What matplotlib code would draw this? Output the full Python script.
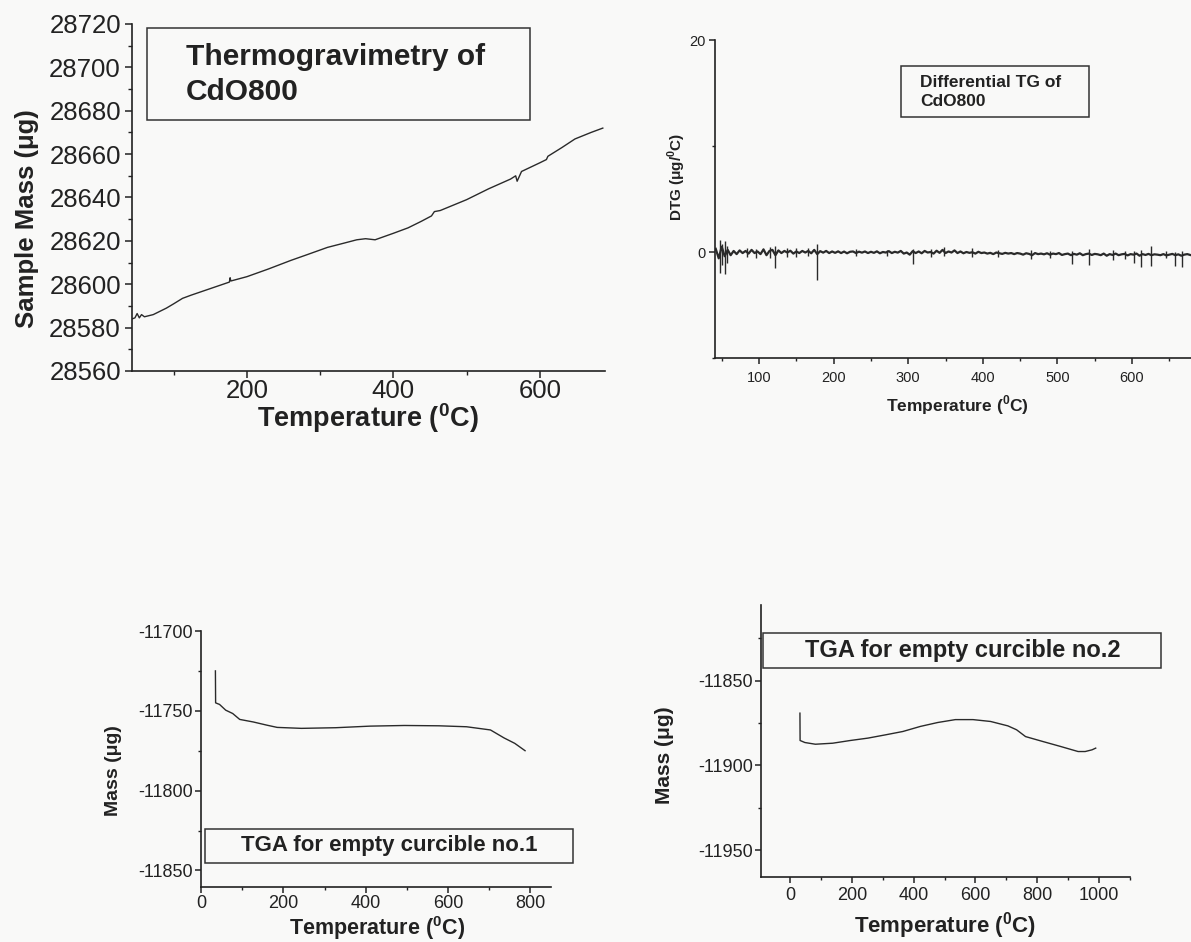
import numpy as np
import matplotlib
matplotlib.use("Agg")
import matplotlib.pyplot as plt
from matplotlib.patches import Rectangle
from matplotlib.ticker import MultipleLocator

plt.rcParams['font.family'] = ['Liberation Sans', 'DejaVu Sans']
plt.rcParams['mathtext.fontset'] = 'custom'
plt.rcParams['mathtext.rm'] = 'Liberation Sans'
plt.rcParams['mathtext.bf'] = 'Liberation Sans:bold'
plt.rcParams['axes.unicode_minus'] = False

# ---------------- data ----------------
# Panel 1: TG of CdO800
tg_temp = [43, 47, 50, 53, 56, 60, 72, 90, 100, 112, 124, 137, 150, 163, 176, 177, 178,
           200, 229, 260, 281, 310, 333, 350, 362, 375, 400, 420, 438, 452, 456, 464,
           500, 530, 560, 567, 569, 571, 575, 600, 609, 611, 630, 648, 670, 686]
tg_mass = [28584, 28584.5, 28586.5, 28584.5, 28586, 28585, 28586, 28589, 28591, 28593.5,
           28595, 28596.5, 28598, 28599.5, 28601, 28603, 28601.5, 28603.5, 28607, 28611,
           28613.5, 28617, 28619, 28620.5, 28621, 28620.5, 28623.5, 28626, 28629,
           28631.5, 28633.5, 28634, 28639, 28644, 28648.5, 28650, 28647.5, 28649, 28652,
           28656, 28657.5, 28659, 28663, 28667, 28670, 28672]

# Panel 2: DTG of CdO800 (sampled every 4 degC from 42 to 678)
dtg_temp = np.arange(42, 680, 4)
dtg_value = [
    0.3, -0.6, 0.5, -0.4, 0.2, -0.3, 0.1, -0.2, 0.15, -0.1,
    0.1, -0.15, 0.2, -0.1, 0.05, -0.2, 0.25, -0.3, 0.1, 0.2,
    -0.3, 0.15, -0.1, 0.1, -0.05, 0.12, -0.15, 0.05, -0.1, 0.1,
    -0.05, 0.1, -0.12, 0.2, -0.2, 0.08, -0.06, 0.1, -0.1, 0.05,
    -0.08, 0.06, -0.1, 0.04, -0.12, 0.02, 0.05, -0.1, 0.03, -0.06,
    0.05, -0.1, 0.02, -0.08, 0.06, -0.12, 0.0, -0.05, 0.08, -0.1,
    0.02, -0.06, 0.1, -0.15, -0.05, -0.25, 0.08, -0.1, 0.05, -0.12,
    0.1, -0.05, 0.0, -0.15, 0.12, -0.08, 0.2, -0.1, 0.05, -0.05,
    0.15, -0.1, 0.05, -0.12, 0.0, -0.08, -0.02, -0.15, 0.02, -0.1,
    -0.05, -0.15, -0.08, -0.2, -0.05, -0.12, -0.18, -0.08, -0.15, -0.1,
    -0.2, -0.1, -0.15, -0.25, -0.12, -0.18, -0.3, -0.1, -0.2, -0.15,
    -0.22, -0.12, -0.25, -0.15, -0.2, -0.1, -0.28, -0.2, -0.15, -0.3,
    -0.18, -0.25, -0.12, -0.3, -0.2, -0.15, -0.28, -0.18, -0.22, -0.3,
    -0.15, -0.35, -0.2, -0.28, -0.15, -0.3, -0.22, -0.18, -0.32, -0.2,
    -0.25, -0.15, -0.35, -0.2, -0.28, -0.18, -0.3, -0.22, -0.25, -0.3,
    -0.2, -0.32, -0.25, -0.18, -0.3, -0.22, -0.35, -0.25, -0.2, -0.28]
# isolated spikes in the DTG trace
spike_temp = [48, 51, 54, 57, 84, 96, 115, 122, 138, 150, 165, 178, 230, 272, 306, 330,
              348, 386, 420, 465, 490, 519, 542, 575, 590, 603, 612, 625, 645, 657, 667]
spike_lo = [-2.0, -1.2, -2.1, -1.0, -0.5, -0.6, -0.6, -1.55, -0.5, -0.5, -0.4, -2.6,
            -0.4, -0.4, -1.1, -0.5, -0.4, -0.5, -0.5, -0.7, -0.6, -1.1, -1.2, -0.8,
            -0.7, -1.0, -1.4, -1.3, -0.6, -1.3, -1.4]
spike_hi = [1.1, 0.8, 1.0, 0.6, 0.4, 0.3, 0.5, 0.6, 0.4, 0.4, 0.4, 0.8, 0.3, 0.2, 0.3,
            0.3, 0.5, 0.4, 0.2, 0.2, 0.1, 0.1, 0.3, 0.2, 0.1, 0.1, 0.2, 0.6, 0.1, 0.0,
            0.1]

# Panel 3: empty crucible no.1
ec1_temp = [35, 35.5, 40, 45, 60, 77, 94, 127, 160, 185, 244, 327, 411, 494, 578, 645,
            703, 736, 762, 787]
ec1_mass = [-11725, -11745, -11745.5, -11746, -11749.6, -11751.7, -11755.4, -11757,
            -11759, -11760.4, -11761, -11760.6, -11759.6, -11759.2, -11759.4, -11760,
            -11762, -11767, -11770.4, -11775]

# Panel 4: empty crucible no.2
ec2_temp = [32, 32.5, 48, 82, 138, 195, 252, 308, 365, 422, 478, 535, 592, 649, 705,
            733, 762, 818, 875, 932, 955, 977, 989]
ec2_mass = [-11869.2, -11885.3, -11886.5, -11887.5, -11886.9, -11885.3, -11883.9,
            -11882, -11880, -11877, -11874.7, -11873, -11873, -11874.1, -11876.7,
            -11879, -11883, -11885.9, -11888.8, -11891.8, -11891.8, -11890.8, -11889.8]

title1 = ["Thermogravimetry of", "CdO800"]
title2 = ["Differential TG of", "CdO800"]
title3 = "TGA for empty curcible no.1"
title4 = "TGA for empty curcible no.2"
xlab = r"Temperature ($^{\mathbf{0}}$C)"

# ---------------- figure ----------------
W, H = 1191, 942
fig = plt.figure(figsize=(W / 100, H / 100), dpi=100, facecolor='#f9f9f8')
INK = '#222222'
LINE = '#2a2a2a'


def axpos(l, t, r, b):
    return [l / W, 1 - b / H, (r - l) / W, (b - t) / H]


def fx(x):
    return x / W


def fy(y):
    return 1 - y / H


def style(ax, fs, major_len, minor_len, xpad, ypad):
    ax.set_facecolor('none')
    for s in ('top', 'right'):
        ax.spines[s].set_visible(False)
    for s in ('left', 'bottom'):
        ax.spines[s].set_color(INK)
        ax.spines[s].set_linewidth(1.2)
    ax.tick_params(which='major', direction='out', length=major_len, width=1.1,
                   colors=INK, labelsize=fs)
    ax.tick_params(which='minor', direction='out', length=minor_len, width=1.0,
                   colors=INK)
    ax.tick_params(axis='x', which='major', pad=xpad)
    ax.tick_params(axis='y', which='major', pad=ypad)


def box(x0, y0, x1, y1):
    fig.patches.append(Rectangle((fx(x0), fy(y1)), fx(x1) - fx(x0), fy(y0) - fy(y1),
                                 transform=fig.transFigure, fill=False,
                                 edgecolor='#333333', linewidth=1.1))


# Panel 1
ax1 = fig.add_axes(axpos(132, 24, 605, 371))
ax1.plot(tg_temp, tg_mass, color=LINE, lw=1.0)
ax1.set_xlim(43, 689)
ax1.set_ylim(28560, 28720)
ax1.xaxis.set_major_locator(MultipleLocator(200))
ax1.xaxis.set_minor_locator(MultipleLocator(100))
ax1.yaxis.set_major_locator(MultipleLocator(20))
ax1.yaxis.set_minor_locator(MultipleLocator(10))
style(ax1, 18.5, 5, 3, 0.5, 3)
ax1.set_ylabel("Sample Mass (μg)", fontsize=18.5, fontweight='bold', color=INK, va='center')
ax1.yaxis.set_label_coords(fx(27), fy(219), transform=fig.transFigure)
ax1.set_xlabel(xlab, fontsize=19.5, fontweight='bold', color=INK, va='center')
ax1.xaxis.set_label_coords(fx(368), fy(418), transform=fig.transFigure)
box(147, 28, 530, 120)
fig.text(fx(186), fy(65), title1[0], fontsize=21.5, fontweight='bold', color=INK,
         ha='left', va='baseline')
fig.text(fx(186), fy(100), title1[1], fontsize=21.5, fontweight='bold', color=INK,
         ha='left', va='baseline')

# Panel 2
ax2 = fig.add_axes(axpos(715, 40, 1191, 358))
ax2.plot(dtg_temp, dtg_value, color=LINE, lw=1.6)
ax2.vlines(spike_temp, spike_lo, spike_hi, color=LINE, lw=1.0)
ax2.set_xlim(41, 679)
ax2.set_ylim(-10, 20)
ax2.xaxis.set_major_locator(MultipleLocator(100))
ax2.xaxis.set_minor_locator(MultipleLocator(50))
ax2.yaxis.set_major_locator(MultipleLocator(20))
ax2.yaxis.set_minor_locator(MultipleLocator(10))
style(ax2, 10.5, 4, 2.5, 5, 3)
ax2.set_ylabel(r"DTG (μg/$^{\mathbf{0}}$C)", fontsize=11, fontweight='bold', color=INK,
               va='center')
ax2.yaxis.set_label_coords(fx(677), fy(177), transform=fig.transFigure)
ax2.set_xlabel(xlab, fontsize=12.5, fontweight='bold', color=INK, va='center')
ax2.xaxis.set_label_coords(fx(957), fy(405), transform=fig.transFigure)
box(901, 66, 1089, 117)
fig.text(fx(920), fy(87), title2[0], fontsize=12.5, fontweight='bold', color=INK,
         ha='left', va='baseline')
fig.text(fx(920), fy(106), title2[1], fontsize=12.5, fontweight='bold', color=INK,
         ha='left', va='baseline')

# Panel 3
ax3 = fig.add_axes(axpos(201, 631, 551, 887))
ax3.plot(ec1_temp, ec1_mass, color=LINE, lw=1.0)
ax3.set_xlim(0, 850)
ax3.set_ylim(-11860.4, -11700)
ax3.xaxis.set_major_locator(MultipleLocator(200))
ax3.xaxis.set_minor_locator(MultipleLocator(100))
ax3.yaxis.set_major_locator(MultipleLocator(50))
ax3.yaxis.set_minor_locator(MultipleLocator(25))
style(ax3, 13, 4, 2.5, 2, 2)
ax3.set_ylabel("Mass (μg)", fontsize=14, fontweight='bold', color=INK, va='center')
ax3.yaxis.set_label_coords(fx(113), fy(771), transform=fig.transFigure)
ax3.set_xlabel(xlab, fontsize=15.5, fontweight='bold', color=INK, va='center')
ax3.xaxis.set_label_coords(fx(377), fy(928), transform=fig.transFigure)
box(205, 829, 573, 863)
fig.text(fx(389), fy(846), title3, fontsize=16, fontweight='bold', color=INK,
         ha='center', va='center')

# Panel 4
ax4 = fig.add_axes(axpos(761, 605, 1130, 877))
ax4.plot(ec2_temp, ec2_mass, color=LINE, lw=1.0)
ax4.set_xlim(-94, 1100)
ax4.set_ylim(-11965.7, -11805.5)
ax4.xaxis.set_major_locator(MultipleLocator(200))
ax4.xaxis.set_minor_locator(MultipleLocator(100))
ax4.yaxis.set_major_locator(MultipleLocator(50))
ax4.yaxis.set_minor_locator(MultipleLocator(25))
style(ax4, 13, 4, 2.5, 3.5, 2)
ax4.set_ylabel("Mass (μg)", fontsize=15, fontweight='bold', color=INK, va='center')
ax4.yaxis.set_label_coords(fx(665), fy(755), transform=fig.transFigure)
ax4.set_xlabel(xlab, fontsize=16, fontweight='bold', color=INK, va='center')
ax4.xaxis.set_label_coords(fx(945), fy(926), transform=fig.transFigure)
box(763, 633, 1161, 668)
fig.text(fx(963), fy(651), title4, fontsize=17, fontweight='bold', color=INK,
         ha='center', va='center')

fig.savefig("out.png", dpi=100, facecolor=fig.get_facecolor())
